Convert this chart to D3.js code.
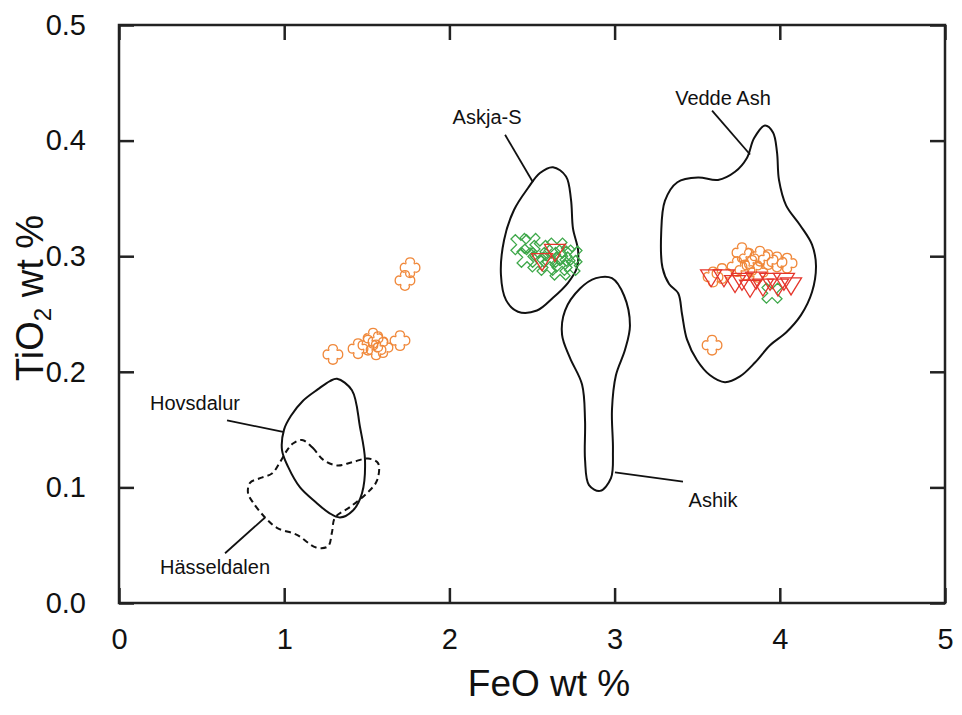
<!DOCTYPE html>
<html>
<head>
<meta charset="utf-8">
<script src="https://cdn.jsdelivr.net/npm/d3@7"></script>
<style>
  html, body { margin: 0; padding: 0; background: #fff; }
  svg { display: block; font-family: "Liberation Sans", Arial, sans-serif; }
</style>
</head>
<body>
<svg id="chart" width="962" height="715"></svg>
<script>
// ---------- DATA ----------
const xTickValues = [0, 1, 2, 3, 4, 5];
const yTickValues = [0.0, 0.1, 0.2, 0.3, 0.4, 0.5];

// Field outlines [FeO, TiO2]
const askjaOutline = [[2.627,0.377],[2.706,0.369],[2.736,0.349],[2.748,0.324],[2.779,0.305],[2.772,0.290],[2.718,0.277],[2.627,0.264],[2.530,0.253],[2.415,0.252],[2.343,0.262],[2.312,0.284],[2.331,0.314],[2.391,0.340],[2.476,0.359],[2.548,0.372]];
const ashikOutline = [[2.887,0.281],[2.984,0.281],[3.057,0.266],[3.093,0.240],[3.063,0.219],[3.008,0.197],[2.984,0.167],[2.990,0.132],[2.978,0.108],[2.912,0.097],[2.845,0.102],[2.821,0.124],[2.821,0.158],[2.803,0.189],[2.730,0.212],[2.682,0.232],[2.700,0.253],[2.791,0.272]];
const veddeOutline = [[3.910,0.413],[3.959,0.407],[3.983,0.390],[3.995,0.366],[4.038,0.344],[4.122,0.327],[4.195,0.310],[4.219,0.292],[4.195,0.269],[4.128,0.249],[4.038,0.234],[3.941,0.223],[3.850,0.208],[3.759,0.196],[3.668,0.191],[3.578,0.197],[3.499,0.210],[3.438,0.228],[3.408,0.250],[3.385,0.268],[3.330,0.276],[3.290,0.290],[3.282,0.320],[3.305,0.348],[3.380,0.364],[3.505,0.368],[3.626,0.366],[3.729,0.373],[3.801,0.385],[3.844,0.402]];
const hovsdalurOutline = [[1.320,0.194],[1.410,0.184],[1.459,0.152],[1.489,0.124],[1.471,0.095],[1.416,0.080],[1.338,0.074],[1.271,0.078],[1.193,0.087],[1.096,0.100],[1.023,0.118],[0.987,0.132],[0.999,0.150],[1.041,0.162],[1.114,0.175],[1.205,0.185],[1.277,0.192]];
const hasseldalenOutline = [[1.108,0.141],[1.174,0.134],[1.235,0.124],[1.320,0.119],[1.416,0.122],[1.507,0.125],[1.568,0.121],[1.562,0.106],[1.501,0.095],[1.398,0.083],[1.308,0.074],[1.289,0.061],[1.265,0.049],[1.193,0.048],[1.077,0.059],[0.956,0.065],[0.884,0.074],[0.811,0.087],[0.781,0.095],[0.793,0.104],[0.854,0.108],[0.926,0.112],[0.975,0.122],[1.017,0.132],[1.053,0.138]];

// Sample analyses [FeO, TiO2]
const orangeSamples = [[1.295,0.215],[1.447,0.220],[1.507,0.223],[1.538,0.229],[1.568,0.226],[1.598,0.221],[1.556,0.219],[1.701,0.227],[1.762,0.290],[1.731,0.279],
  [3.771,0.303],[3.814,0.298],[3.880,0.300],[3.929,0.297],[3.983,0.295],[4.044,0.294],[3.741,0.291],[3.832,0.292],[3.868,0.286],[3.596,0.282],[3.650,0.285],[3.789,0.288],[3.590,0.223]];
const greenSamples = [[2.433,0.310],[2.488,0.311],[2.548,0.305],[2.470,0.299],[2.609,0.299],[2.651,0.307],[2.682,0.295],[2.730,0.292],[2.742,0.300],[2.536,0.295],[2.591,0.292],[2.670,0.288],[2.700,0.301],
  [3.953,0.268]];
const redSamples = [[2.639,0.305],[2.561,0.297],
  [3.584,0.283],[3.662,0.283],[3.729,0.278],[3.771,0.280],[3.820,0.274],[3.856,0.281],[3.898,0.275],[3.941,0.280],[3.989,0.275],[4.025,0.280],[4.068,0.276]];

// Annotation labels: text, label anchor, leader start, leader end (data coords)
const labelNames = ["Askja-S", "Vedde Ash", "Ashik", "Hovsdalur", "Hässeldalen"];
const labelAt = [[2.228,0.420],[3.656,0.437],[3.596,0.089],[0.460,0.173],[0.581,0.031]];
const leaderFrom = [[2.337,0.405],[3.590,0.426],[3.002,0.113],[0.654,0.158],[0.642,0.043]];
const leaderTo = [[2.506,0.364],[3.820,0.388],[3.414,0.105],[0.993,0.148],[0.884,0.074]];

// ---------- CHART ----------
const svg = d3.select("#chart");
const mLeft = 119, mRight = 945, mTop = 25, mBottom = 603;
const x = d3.scaleLinear().domain([0, 5]).range([mLeft, mRight]);
const y = d3.scaleLinear().domain([0, 0.5]).range([mBottom, mTop]);
const tickLen = 15;

// Outlines
const outline = d3.line().x(d => x(d[0])).y(d => y(d[1])).curve(d3.curveCatmullRomClosed.alpha(0.5));
const fields = [
  {pts: askjaOutline, dash: null},
  {pts: ashikOutline, dash: null},
  {pts: veddeOutline, dash: null},
  {pts: hovsdalurOutline, dash: null},
  {pts: hasseldalenOutline, dash: "6,4"}
];
svg.append("g").selectAll("path").data(fields).join("path")
  .attr("d", d => outline(d.pts))
  .attr("fill", "none").attr("stroke", "#111").attr("stroke-width", 2)
  .attr("stroke-dasharray", d => d.dash);

// Leaders and labels
const ann = svg.append("g");
labelNames.forEach((t, i) => {
  ann.append("line")
    .attr("x1", x(leaderFrom[i][0])).attr("y1", y(leaderFrom[i][1]))
    .attr("x2", x(leaderTo[i][0])).attr("y2", y(leaderTo[i][1]))
    .attr("stroke", "#111").attr("stroke-width", 1.8);
  ann.append("text")
    .attr("x", x(labelAt[i][0])).attr("y", y(labelAt[i][1]))
    .attr("text-anchor", "middle").attr("dominant-baseline", "central")
    .attr("font-size", 20).attr("fill", "#111").text(t);
});

// Markers
const rot = (p, k) => {
  const c = Math.cos(k * Math.PI / 2), s = Math.sin(k * Math.PI / 2);
  return [p[0] * c - p[1] * s, p[0] * s + p[1] * c];
};
const clover = (() => {
  const d = 6.8, a = 4.6, th = 10 * Math.PI / 180;
  const start = [-a * Math.cos(th), -d + a * Math.sin(th)];
  const end = [a * Math.cos(th), -d + a * Math.sin(th)];
  const ctrl = [3.0, -3.0];
  let s = `M${start[0]},${start[1]}`;
  for (let k = 0; k < 4; k++) {
    const e = rot(end, k), c = rot(ctrl, k), nst = rot(start, k + 1);
    s += `A${a},${a} 0 0 1 ${e[0]},${e[1]}`;
    s += `Q${c[0]},${c[1]} ${nst[0]},${nst[1]}`;
  }
  return s + "Z";
})();
const xMark = (() => {
  const w = 3.1, L = 11;
  const p = [[w,-L],[w,-w],[L,-w],[L,w],[w,w],[w,L],[-w,L],[-w,w],[-L,w],[-L,-w],[-w,-w],[-w,-L]];
  return "M" + p.map(q => q.join(",")).join("L") + "Z";
})();
const triMark = "M-10.5,-6L10.5,-6L0,11Z";

svg.append("g").selectAll("path").data(orangeSamples).join("path")
  .attr("d", clover)
  .attr("transform", d => `translate(${x(d[0])},${y(d[1])})`)
  .attr("fill", "none").attr("stroke", "#f0883a").attr("stroke-width", 1.3);

svg.append("g").selectAll("path").data(greenSamples).join("path")
  .attr("d", xMark)
  .attr("transform", d => `translate(${x(d[0])},${y(d[1])}) rotate(45)`)
  .attr("fill", "none").attr("stroke", "#3ea84a").attr("stroke-width", 1.3);

svg.append("g").selectAll("path").data(redSamples).join("path")
  .attr("d", triMark)
  .attr("transform", d => `translate(${x(d[0])},${y(d[1])})`)
  .attr("fill", "none").attr("stroke", "#e5352b").attr("stroke-width", 1.3);

// Frame
svg.append("rect").attr("x", mLeft).attr("y", mTop)
  .attr("width", mRight - mLeft).attr("height", mBottom - mTop)
  .attr("fill", "none").attr("stroke", "#222").attr("stroke-width", 2.5);

// Axes with inward ticks
const axB = svg.append("g").attr("transform", `translate(0,${mBottom})`)
  .call(d3.axisBottom(x).tickValues(xTickValues).tickFormat(d3.format("d")).tickSize(-tickLen).tickPadding(tickLen + 10));
const axT = svg.append("g").attr("transform", `translate(0,${mTop})`)
  .call(d3.axisTop(x).tickValues(xTickValues).tickFormat("").tickSize(-tickLen));
const axL = svg.append("g").attr("transform", `translate(${mLeft},0)`)
  .call(d3.axisLeft(y).tickValues(yTickValues).tickFormat(d3.format(".1f")).tickSize(-tickLen).tickPadding(tickLen + 18));
const axR = svg.append("g").attr("transform", `translate(${mRight},0)`)
  .call(d3.axisRight(y).tickValues(yTickValues).tickFormat("").tickSize(-tickLen));
[axB, axT, axL, axR].forEach(a => {
  a.select(".domain").remove();
  a.selectAll(".tick line").attr("stroke", "#222").attr("stroke-width", 2.5);
  a.selectAll(".tick text").attr("font-size", 29).attr("fill", "#111")
    .attr("font-family", "'Liberation Sans', Arial, sans-serif");
});

// Axis titles
svg.append("text").attr("x", 549).attr("y", 696)
  .attr("text-anchor", "middle").attr("font-size", 37).attr("fill", "#111").text("FeO wt %");
const yt = svg.append("text")
  .attr("transform", `translate(43,298) rotate(-90)`)
  .attr("text-anchor", "middle").attr("font-size", 38).attr("fill", "#111");
yt.append("tspan").text("TiO");
yt.append("tspan").attr("font-size", 24).attr("dy", 8).text("2");
yt.append("tspan").attr("dy", -8).text(" wt %");
</script>
</body>
</html>
